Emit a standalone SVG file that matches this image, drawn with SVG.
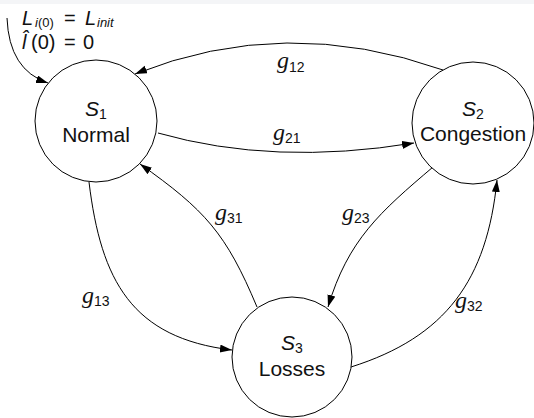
<svg xmlns="http://www.w3.org/2000/svg" width="534" height="418" viewBox="0 0 534 418">
<style>
.node{fill:#fff;stroke:#000;stroke-width:1}
.edge{fill:none;stroke:#000;stroke-width:1}
.lbl{font-family:"Liberation Sans","DejaVu Sans",sans-serif;font-size:21px;fill:#111}
.s{font-family:"Liberation Sans","DejaVu Sans",sans-serif;font-size:21px;font-style:italic;fill:#111}
.g{font-family:"Liberation Serif","DejaVu Serif",serif;font-size:24px;font-style:italic;fill:#111}
.sub{font-family:"Liberation Sans","DejaVu Sans",sans-serif;font-size:14px;font-style:normal}
.m{font-family:"Liberation Sans","DejaVu Sans",sans-serif;font-size:20px;fill:#111}
.ms{font-size:13px}
</style>
<defs>
<marker id="ah" markerUnits="userSpaceOnUse" markerWidth="13" markerHeight="9" refX="12" refY="4" orient="auto">
<path d="M0,0 L12,4 L0,8 Z" fill="#000"/>
</marker>
</defs>
<rect x="0" y="0" width="534" height="418" fill="#fff"/>
<rect x="0" y="0" width="534" height="4" fill="#f4f5f7"/>
<g id="connectors">
<path class="edge" d="M7,18 Q9,70 48,83" marker-end="url(#ah)"/>
<path class="edge" d="M443,70 Q285,14 135,74" marker-end="url(#ah)"/>
<path class="edge" d="M158,133 Q274,166 414,143" marker-end="url(#ah)"/>
<path class="edge" d="M257,307 C226,233 205,210 140,164" marker-end="url(#ah)"/>
<path class="edge" d="M433,167 C380,212 348,240 328,307" marker-end="url(#ah)"/>
<path class="edge" d="M89,182 C101,281 132,338 232,350" marker-end="url(#ah)"/>
<path class="edge" d="M351,367 C446,337 487,280 497,180" marker-end="url(#ah)"/>
</g>
<g id="initial-label">
<text class="m"><tspan x="22" y="25" font-style="italic">L</tspan><tspan class="ms" x="35" y="27" font-style="italic">i</tspan><tspan class="ms">(0)</tspan><tspan x="64" y="25">=</tspan><tspan x="85" y="25" font-style="italic">L</tspan><tspan class="ms" x="97" y="27" font-style="italic">init</tspan></text>
<text class="m"><tspan x="22" y="49" font-style="italic">l̂</tspan><tspan x="31" y="49">(0)</tspan><tspan x="64" y="49">=</tspan><tspan x="83" y="49">0</tspan></text>
</g>
<g id="S1">
<circle class="node" cx="96" cy="121" r="61"/>
<text class="s" x="96" y="116" text-anchor="middle">S<tspan class="sub" dy="3">1</tspan></text>
<text class="lbl" x="96" y="142" text-anchor="middle">Normal</text>
</g>
<g id="S2">
<circle class="node" cx="473" cy="123" r="61"/>
<text class="s" x="473" y="116" text-anchor="middle">S<tspan class="sub" dy="3">2</tspan></text>
<text class="lbl" x="473" y="141" text-anchor="middle">Congestion</text>
</g>
<g id="S3">
<circle class="node" cx="292" cy="357" r="60"/>
<text class="s" x="292" y="350" text-anchor="middle">S<tspan class="sub" dy="3">3</tspan></text>
<text class="lbl" x="292" y="376" text-anchor="middle">Losses</text>
</g>
<g id="edge-labels">
<text class="g" x="277" y="68">g<tspan class="sub" dy="4">12</tspan></text>
<text class="g" x="273" y="140">g<tspan class="sub" dy="3">21</tspan></text>
<text class="g" x="215" y="220">g<tspan class="sub" dy="3">31</tspan></text>
<text class="g" x="342" y="220">g<tspan class="sub" dy="3">23</tspan></text>
<text class="g" x="82" y="303">g<tspan class="sub" dy="3">13</tspan></text>
<text class="g" x="455" y="308">g<tspan class="sub" dy="3">32</tspan></text>
</g>
</svg>
